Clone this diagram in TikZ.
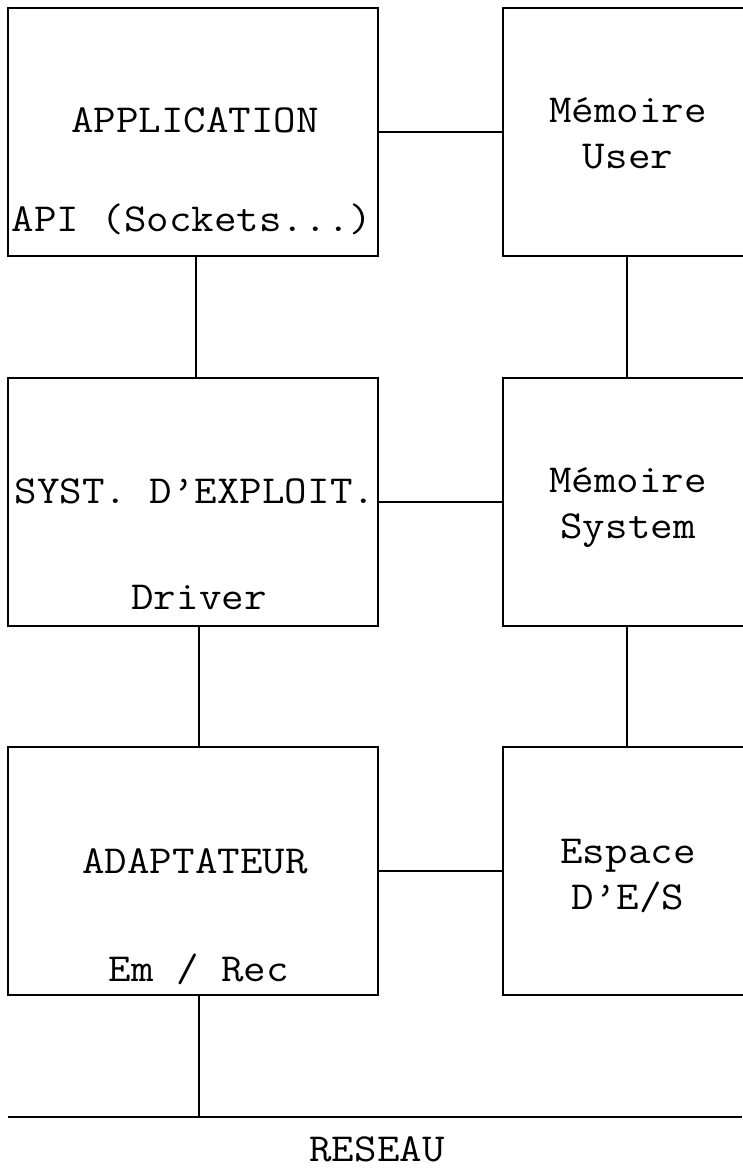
\documentclass[tikz,border=0pt]{standalone}
\usepackage{fontspec}
\newfontfamily\monof{Latin Modern Mono}[FakeStretch=1.1]
\begin{document}
\begin{tikzpicture}[x=0.75pt,y=-0.75pt,
  boxL/.style={draw,line width=1.6pt,rectangle,inner sep=0pt,outer sep=0pt,minimum width=277.5pt,minimum height=186pt},
  boxR/.style={draw,line width=1.6pt,rectangle,inner sep=0pt,outer sep=0pt,minimum width=186pt,minimum height=186pt},
  lbl/.style={inner sep=0pt,anchor=base,font=\monof\fontsize{29.8pt}{34.5pt}\selectfont},
  conn/.style={line width=1.5pt}]
\useasboundingbox (0,0) rectangle (742,1169);
% boxes
\node[boxL] (app) at (193,132) {};
\node[boxR] (memu) at (627,132) {};
\node[boxL] (syst) at (193,502) {};
\node[boxR] (mems) at (627,502) {};
\node[boxL] (adapt) at (193,871) {};
\node[boxR] (esp) at (627,871) {};
% labels
\node[lbl] (tapp) at (195,133) {APPLICATION};
\node[lbl] (tapi) at (192,232) {API (Sockets...)};
\node[lbl] (tmemu1) at (628,123) {Mémoire};
\node[lbl] (tmemu2) at (628,169) {User};
\node[lbl] (tsyst) at (195,503) {SYST. D’EXPLOIT.};
\node[lbl] (tdrv) at (199,609) {Driver};
\node[lbl] (tmems1) at (628,492) {Mémoire};
\node[lbl] (tmems2) at (628,538) {System};
\node[lbl] (tadapt) at (195,873) {ADAPTATEUR};
\node[lbl] (tem) at (199,981) {Em / Rec};
\node[lbl] (tesp1) at (628,863) {Espace};
\node[lbl] (tesp2) at (628,909) {D’E/S};
\node[lbl] (tres) at (377,1161) {RESEAU};
% network line
\coordinate (netL) at (8,1117);
\coordinate (netR) at (742,1117);
\draw[conn] (netL) -- (netR);
% connectors
\draw[conn] (app.east) -- (memu.west);
\draw[conn] (syst.east) -- (mems.west);
\draw[conn] (adapt.east) -- (esp.west);
\draw[conn] ([xshift=2.25pt]app.south) -- ([xshift=2.25pt]app.south |- syst.north);
\draw[conn] ([xshift=4.5pt]syst.south) -- ([xshift=4.5pt]syst.south |- adapt.north);
\draw[conn] (memu.south) -- (mems.north);
\draw[conn] (mems.south) -- (esp.north);
\draw[conn] ([xshift=4.5pt]adapt.south) -- ([xshift=4.5pt]adapt.south |- netL);
\end{tikzpicture}
\end{document}
